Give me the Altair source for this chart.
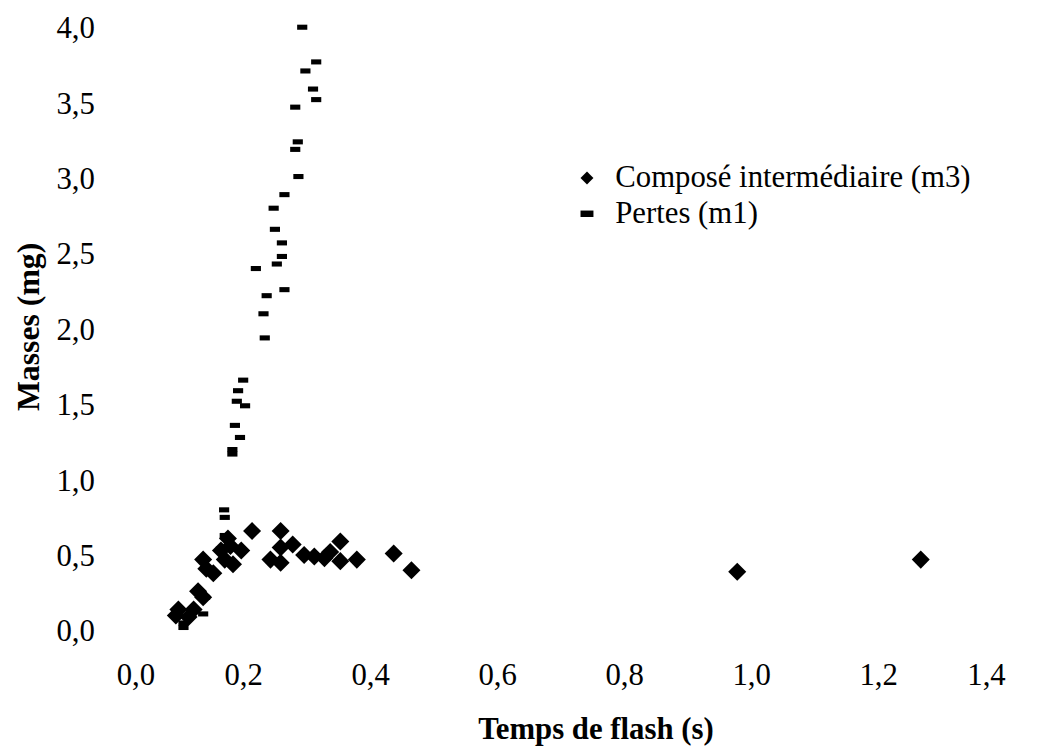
import altair as alt
import pandas as pd

# ---- data ----
series_names = ["Composé intermédiaire (m3)", "Pertes (m1)"]

comp_x = [0.094, 0.098, 0.114, 0.122, 0.129, 0.137, 0.137, 0.142, 0.153, 0.165,
          0.171, 0.176, 0.180, 0.184, 0.197, 0.214, 0.243, 0.259, 0.259, 0.259,
          0.278, 0.296, 0.312, 0.328, 0.337, 0.353, 0.353, 0.379, 0.437, 0.465,
          0.978, 1.267]
comp_y = [0.11, 0.15, 0.10, 0.15, 0.27, 0.23, 0.48, 0.42, 0.39, 0.54,
          0.48, 0.62, 0.57, 0.45, 0.54, 0.67, 0.48, 0.46, 0.56, 0.67,
          0.58, 0.51, 0.50, 0.49, 0.53, 0.60, 0.47, 0.48, 0.52, 0.41,
          0.40, 0.48]

pertes_x = [0.293, 0.315, 0.298, 0.310, 0.315, 0.282, 0.286, 0.282, 0.287, 0.265,
            0.248, 0.250, 0.261, 0.261, 0.253, 0.220, 0.265, 0.237, 0.232, 0.234,
            0.200, 0.192, 0.190, 0.203, 0.187, 0.195, 0.183, 0.183, 0.170, 0.171,
            0.171, 0.165, 0.106, 0.106, 0.137, 0.140]
pertes_y = [4.01, 3.78, 3.72, 3.60, 3.53, 3.48, 3.25, 3.20, 3.02, 2.90,
            2.81, 2.67, 2.58, 2.49, 2.44, 2.41, 2.27, 2.23, 2.11, 1.95,
            1.67, 1.60, 1.53, 1.50, 1.37, 1.29, 1.18, 1.21, 0.81, 0.76,
            0.64, 0.55, 0.03, 0.06, 0.12, 0.23]

x_ticks = [0.0, 0.2, 0.4, 0.6, 0.8, 1.0, 1.2, 1.4]
y_ticks = [0.0, 0.5, 1.0, 1.5, 2.0, 2.5, 3.0, 3.5, 4.0]

x_title = "Temps de flash (s)"
y_title = "Masses (mg)"

DASH = "M-1,-0.5L1,-0.5L1,0.5L-1,0.5Z"
FONT = "Liberation Serif"
FS = 31

df_comp = pd.DataFrame({"x": comp_x, "y": comp_y, "serie": series_names[0]})
df_pertes = pd.DataFrame({"x": pertes_x, "y": pertes_y, "serie": series_names[1]})

label_expr = "replace(format(datum.value, '.1f'), '.', ',')"

x_enc = alt.X("x:Q",
              scale=alt.Scale(domain=[0, 1.4], nice=False, zero=False),
              axis=alt.Axis(values=x_ticks, labelExpr=label_expr, title=x_title,
                            domain=False, ticks=False, grid=False,
                            labelFont=FONT, labelFontSize=FS, labelPadding=53,
                            labelBaseline="alphabetic", labelColor="black",
                            titleFont=FONT, titleFontSize=FS, titleFontWeight="bold",
                            titleColor="black", titleX=483, titleY=107,
                            titleAlign="center", titleBaseline="alphabetic"))
y_enc = alt.Y("y:Q",
              scale=alt.Scale(domain=[0, 4.0], nice=False, zero=False),
              axis=alt.Axis(values=y_ticks, labelExpr=label_expr, title=y_title,
                            domain=False, ticks=False, grid=False,
                            labelFont=FONT, labelFontSize=FS, labelPadding=22,
                            labelColor="black",
                            titleFont=FONT, titleFontSize=32, titleFontWeight="bold",
                            titleColor="black", titleX=-78, titleY=300,
                            titleAngle=270, titleAlign="center",
                            titleBaseline="alphabetic"))

shape_enc = alt.Shape("serie:N",
                      scale=alt.Scale(domain=series_names, range=["diamond", DASH]),
                      legend=alt.Legend(title=None, orient="none",
                                        legendX=459, legendY=135,
                                        labelFont=FONT, labelFontSize=FS,
                                        labelColor="black", labelOffset=13,
                                        labelLimit=600,
                                        symbolSize=170, symbolFillColor="black",
                                        symbolStrokeColor="black", symbolStrokeWidth=0,
                                        rowPadding=4, padding=0))

comp_layer = alt.Chart(df_comp).mark_point(filled=True, opacity=1, color="black",
                                            size=330, strokeWidth=0).encode(
    x=x_enc, y=y_enc, shape=shape_enc)
pertes_layer = alt.Chart(df_pertes).mark_point(filled=True, opacity=1, color="black",
                                                size=105, strokeWidth=0).encode(
    x=x_enc, y=y_enc, shape=shape_enc)

chart = alt.layer(comp_layer, pertes_layer).properties(
    width=896, height=608,
    autosize=alt.AutoSizeParams(type="none"),
    padding={"left": 109, "top": 18, "right": 28, "bottom": 114},
    background="white",
).configure(font=FONT).configure_view(stroke=None)

chart.save("out.html", embed_options={"renderer": "svg", "actions": False})
